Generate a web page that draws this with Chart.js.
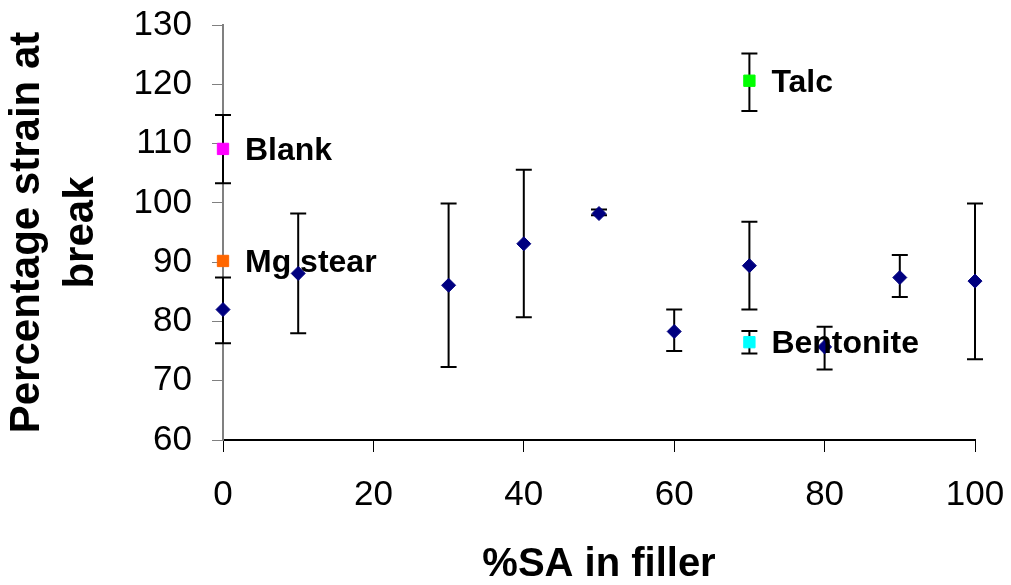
<!DOCTYPE html>
<html>
<head>
<meta charset="utf-8">
<script src="https://cdn.jsdelivr.net/npm/chart.js@4.4.1/dist/chart.umd.min.js"></script>
<style>
  html, body { margin:0; padding:0; background:#fff; }
  #wrap { width:1011px; height:585px; }
</style>
</head>
<body>
<div id="wrap"><canvas id="chart" width="1011" height="585"></canvas></div>
<script>
// %SA series
const saPct      = [0, 10, 30, 40, 50, 60, 70, 80, 90, 100];
const strain     = [82.0, 88.1, 86.1, 93.1, 98.2, 78.3, 89.4, 75.7, 87.4, 86.8];
const strainLow  = [76.3, 78.0, 72.3, 80.7, 97.9, 75.0, 82.0, 71.9, 84.1, 73.6];
const strainHigh = [87.4, 98.2, 99.9, 105.6, 98.9, 82.0, 96.8, 79.1, 91.2, 99.9];

// reference fillers
const fillerNames  = ['Blank', 'Mg stear', 'Talc', 'Bentonite'];
const fillerSA     = [0, 0, 70, 70];
const fillerStrain = [109.1, 90.2, 120.6, 76.5];
const fillerLow    = [103.3, null, 115.5, 74.6];
const fillerHigh   = [114.8, null, 125.2, 78.4];
const fillerColors = ['#FF00FF', '#FF6600', '#00FF00', '#00FFFF'];

const FONT = "'Liberation Sans', Arial, sans-serif";

const datasets = [{
  label: 'SA',
  data: saPct.map((x, i) => ({x, y: strain[i]})),
  errLow: strainLow, errHigh: strainHigh,
  pointStyle: 'rectRot', pointRadius: 7,
  backgroundColor: '#000080', borderColor: '#000080', borderWidth: 1,
  showLine: false, clip: false
}];
fillerNames.forEach((name, i) => {
  datasets.push({
    label: name,
    data: [{x: fillerSA[i], y: fillerStrain[i]}],
    errLow: [fillerLow[i]], errHigh: [fillerHigh[i]],
    pointStyle: 'rect', pointRadius: 8,
    backgroundColor: fillerColors[i], borderColor: fillerColors[i], borderWidth: 1,
    showLine: false, clip: false, tag: name
  });
});

const errorBars = {
  id: 'errorBars',
  beforeDatasetsDraw(chart){
    const {ctx, scales:{x, y}} = chart;
    ctx.save();
    ctx.strokeStyle = '#000';
    ctx.lineWidth = 2;
    chart.data.datasets.forEach(ds => {
      ds.data.forEach((p, i) => {
        const lo = ds.errLow[i], hi = ds.errHigh[i];
        if (lo == null || hi == null) return;
        const px = x.getPixelForValue(p.x);
        const y1 = y.getPixelForValue(lo), y2 = y.getPixelForValue(hi);
        ctx.beginPath();
        ctx.moveTo(px, y1); ctx.lineTo(px, y2);
        ctx.moveTo(px - 8, y1); ctx.lineTo(px + 8, y1);
        ctx.moveTo(px - 8, y2); ctx.lineTo(px + 8, y2);
        ctx.stroke();
      });
    });
    ctx.restore();
  }
};

const fillerLabels = {
  id: 'fillerLabels',
  afterDatasetsDraw(chart){
    const {ctx, scales:{x, y}} = chart;
    ctx.save();
    ctx.font = 'bold 32px ' + FONT;
    ctx.fillStyle = '#000';
    ctx.textBaseline = 'middle';
    ctx.textAlign = 'left';
    chart.data.datasets.forEach(ds => {
      if (!ds.tag) return;
      const p = ds.data[0];
      ctx.fillText(ds.tag, x.getPixelForValue(p.x) + 22, y.getPixelForValue(p.y) + 2);
    });
    ctx.restore();
  }
};

// keep the plot box fixed: no extra room for overflowing end labels
function noOverflow(s){
  s.paddingLeft = 0; s.paddingRight = 0; s.paddingTop = 0; s.paddingBottom = 0;
}

new Chart(document.getElementById('chart'), {
  type: 'scatter',
  data: { datasets },
  options: {
    responsive: false,
    animation: false,
    events: [],
    layout: { padding: { top: 25, right: 36, bottom: 0, left: 0 } },
    plugins: { legend: { display: false }, tooltip: { enabled: false } },
    scales: {
      x: {
        type: 'linear', min: 0, max: 100,
        ticks: { stepSize: 20, color: '#000', font: { family: FONT, size: 35 }, padding: 22 },
        grid: { drawOnChartArea: false, tickLength: 12, tickColor: '#000', tickWidth: 1 },
        border: { color: '#000', width: 2 },
        title: { display: true, text: '%SA in filler', color: '#000',
                 font: { family: FONT, size: 40, weight: 'bold', lineHeight: 1 }, padding: { top: 0, bottom: 0 } },
        afterFit(s){ s.height = 145; noOverflow(s); }
      },
      y: {
        min: 60, max: 130,
        ticks: { stepSize: 10, color: '#000', font: { family: FONT, size: 35 }, padding: 20 },
        grid: { drawOnChartArea: false, tickLength: 11, tickColor: '#808080', tickWidth: 1 },
        border: { color: '#808080', width: 2 },
        title: { display: true, text: ['Percentage strain at', 'break'], color: '#000',
                 font: { family: FONT, size: 42, weight: 'bold', lineHeight: 1.3 }, padding: { top: 0, bottom: 0 } },
        afterFit(s){ s.width = 223; noOverflow(s); }
      }
    }
  },
  plugins: [errorBars, fillerLabels]
});
</script>
</body>
</html>
